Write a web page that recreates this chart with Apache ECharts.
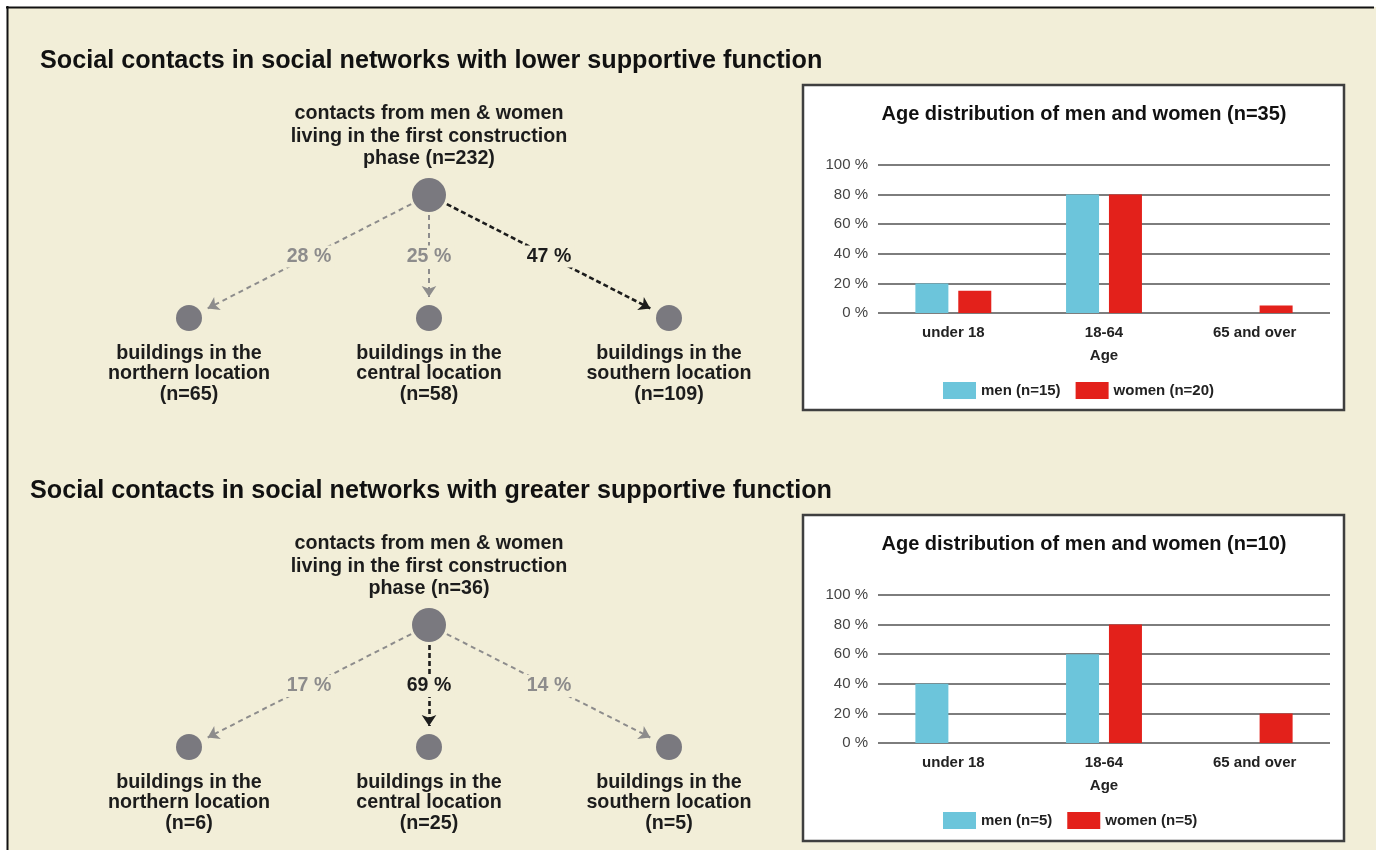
<!DOCTYPE html>
<html>
<head>
<meta charset="utf-8">
<script src="https://cdn.jsdelivr.net/npm/echarts/dist/echarts.min.js"></script>
<style>
html,body{margin:0;padding:0;background:#ffffff;}
#chart{width:1376px;height:850px;}
</style>
</head>
<body>
<div id="chart"></div>
<script>
// ---------- data ----------
const sectionTitles = [
  'Social contacts in social networks with lower supportive function',
  'Social contacts in social networks with greater supportive function'
];
const rootLabelLines = ['contacts from men & women', 'living in the first construction'];
const rootN = [232, 36];
const locations = ['northern', 'central', 'southern'];
const childN = [[65, 58, 109], [6, 25, 5]];
const shares = [[28, 25, 47], [17, 69, 14]];
const childPos = [0, 1, 2];   // position of child nodes in the tree row
const rootPos = 1;            // root sits above the middle child
const levels = { root: 1, child: 0 };

const ageCategories = ['under 18', '18-64', '65 and over'];
const chartTitles = ['Age distribution of men and women (n=35)', 'Age distribution of men and women (n=10)'];
const menN = [15, 5];
const womenN = [20, 5];
const menShare = [[20, 80, 0], [40, 60, 0]];
const womenShare = [[15, 80, 5], [0, 80, 20]];
const yMin = 0, yMax = 100, yStep = 20;

// ---------- styles ----------
const FONT = 'Liberation Sans, Arial, sans-serif';
const CREAM = '#f2eed8';
const NODE = '#7a797f';
const GREY = '#8d8c8c';
const DARK = '#1c1c1c';
const MEN = '#6cc5db';
const WOMEN = '#e3211b';

const diagGrids = [
  { left: 189, top: 195, width: 480, height: 123 },
  { left: 189, top: 625, width: 480, height: 122 }
];
const barGrids = [
  { left: 878, top: 165, width: 452, height: 148 },
  { left: 878, top: 595, width: 452, height: 148 }
];

const grid = [], xAxis = [], yAxis = [], series = [], legend = [];

// diagrams
diagGrids.forEach(function (g, d) {
  grid.push(g);
  xAxis.push({ type: 'value', gridIndex: d, min: 0, max: 2, show: false });
  yAxis.push({ type: 'value', gridIndex: d, min: 0, max: 1, show: false });

  const maxShare = Math.max.apply(null, shares[d]);
  const nodes = [{ value: [rootPos, levels.root], symbolSize: 40 }];
  childPos.forEach(function (p) { nodes.push({ value: [p, levels.child], symbolSize: 42 }); });
  const links = shares[d].map(function (s, i) {
    const hi = s === maxShare;
    return {
      source: 0, target: i + 1,
      lineStyle: { color: hi ? DARK : GREY, width: hi ? 2.6 : 2, type: hi ? [5, 3] : [5, 4], opacity: 1, curveness: 0 }
    };
  });
  series.push({
    type: 'graph', coordinateSystem: 'cartesian2d', xAxisIndex: d, yAxisIndex: d,
    layout: 'none', silent: true, z: 2,
    symbol: 'circle', itemStyle: { color: 'transparent' },
    edgeSymbol: ['circle', 'arrow'], edgeSymbolSize: [0.01, 11],
    label: { show: false },
    data: nodes, links: links
  });

  // visible nodes with their texts
  const circles = [{
    value: [rootPos, levels.root], symbolSize: 34,
    label: {
      show: true, position: 'top', distance: 8,
      formatter: rootLabelLines.concat(['phase (n=' + rootN[d] + ')']).join('\n'),
      lineHeight: 22.5
    }
  }];
  childPos.forEach(function (p, i) {
    circles.push({
      value: [p, levels.child], symbolSize: 26,
      label: {
        show: true, position: 'bottom', distance: 12,
        formatter: ['buildings in the', locations[i] + ' location', '(n=' + childN[d][i] + ')'].join('\n'),
        lineHeight: 20.5
      }
    });
  });
  series.push({
    type: 'scatter', xAxisIndex: d, yAxisIndex: d, silent: true, z: 3,
    itemStyle: { color: NODE, opacity: 1 },
    label: { fontFamily: FONT, fontWeight: 'bold', fontSize: 19.7, color: DARK, align: 'center' },
    data: circles
  });

  // share labels at edge midpoints
  const shareLabels = shares[d].map(function (s, i) {
    const hi = s === maxShare;
    return {
      value: [(rootPos + childPos[i]) / 2, (levels.root + levels.child) / 2, s],
      label: { color: hi ? DARK : GREY }
    };
  });
  series.push({
    type: 'scatter', xAxisIndex: d, yAxisIndex: d, silent: true, z: 4,
    symbolSize: 1, itemStyle: { color: 'transparent', opacity: 1 },
    label: {
      show: true, position: 'inside', fontFamily: FONT, fontWeight: 'bold', fontSize: 19.5,
      backgroundColor: CREAM, padding: [1, 3],
      formatter: function (p) { return p.value[2] + ' %'; }
    },
    data: shareLabels
  });
});

// bar charts
barGrids.forEach(function (g, k) {
  const gi = k + 2;
  grid.push(g);
  xAxis.push({
    type: 'category', gridIndex: gi, data: ageCategories,
    axisLine: { show: false }, axisTick: { show: false },
    axisLabel: { fontFamily: FONT, fontWeight: 'bold', fontSize: 15, color: '#222', margin: 12 },
    name: 'Age', nameLocation: 'middle', nameGap: 35,
    nameTextStyle: { fontFamily: FONT, fontWeight: 'bold', fontSize: 15, color: '#222' }
  });
  yAxis.push({
    type: 'value', gridIndex: gi, min: yMin, max: yMax, interval: yStep,
    axisLine: { show: false }, axisTick: { show: false },
    axisLabel: { formatter: '{value} %', fontFamily: FONT, fontSize: 15, color: '#444', margin: 10 },
    splitLine: { lineStyle: { color: '#7d7d7d', width: 2 } }
  });
  const menName = 'men (n=' + menN[k] + ')';
  const womenName = 'women (n=' + womenN[k] + ')';
  series.push({
    type: 'bar', name: menName, xAxisIndex: gi, yAxisIndex: gi, data: menShare[k],
    barWidth: 33, barGap: '30%', itemStyle: { color: MEN }, silent: true, z: 3
  });
  series.push({
    type: 'bar', name: womenName, xAxisIndex: gi, yAxisIndex: gi, data: womenShare[k],
    barWidth: 33, barGap: '30%', itemStyle: { color: WOMEN }, silent: true, z: 3
  });
  legend.push({
    data: [menName, womenName], left: 938, top: [377, 807][k],
    icon: 'rect', itemWidth: 33, itemHeight: 17, itemGap: 15, selectedMode: false,
    textStyle: { fontFamily: FONT, fontWeight: 'bold', fontSize: 15, color: '#222' }
  });
});

const option = {
  animation: false,
  backgroundColor: CREAM,
  title: [
    { text: sectionTitles[0], left: 35, top: 44, textStyle: { fontFamily: FONT, fontWeight: 'bold', fontSize: 25.2, color: '#111' } },
    { text: sectionTitles[1], left: 25, top: 474, textStyle: { fontFamily: FONT, fontWeight: 'bold', fontSize: 25.2, color: '#111' } },
    { text: chartTitles[0], left: 1079, textAlign: 'center', top: 99, textStyle: { fontFamily: FONT, fontWeight: 'bold', fontSize: 20, color: '#111' } },
    { text: chartTitles[1], left: 1079, textAlign: 'center', top: 529, textStyle: { fontFamily: FONT, fontWeight: 'bold', fontSize: 20, color: '#111' } }
  ],
  graphic: [
    { type: 'rect', z: -10, shape: { x: 0, y: 0, width: 1376, height: 7 }, style: { fill: '#ffffff' } },
    { type: 'rect', z: -10, shape: { x: 0, y: 0, width: 7, height: 850 }, style: { fill: '#ffffff' } },
    { type: 'line', z: -9, shape: { x1: 6, y1: 7.5, x2: 1374, y2: 7.5 }, style: { stroke: '#111', lineWidth: 2 } },
    { type: 'line', z: -9, shape: { x1: 7.5, y1: 6, x2: 7.5, y2: 850 }, style: { stroke: '#111', lineWidth: 2 } },
    { type: 'rect', z: -8, shape: { x: 803, y: 85, width: 541, height: 325 }, style: { fill: '#ffffff', stroke: '#3f3f3f', lineWidth: 2.5 } },
    { type: 'rect', z: -8, shape: { x: 803, y: 515, width: 541, height: 326 }, style: { fill: '#ffffff', stroke: '#3f3f3f', lineWidth: 2.5 } }
  ],
  legend: legend,
  grid: grid,
  xAxis: xAxis,
  yAxis: yAxis,
  series: series
};

const chart = echarts.init(document.getElementById('chart'), null, { renderer: 'canvas' });
chart.setOption(option);
</script>
</body>
</html>
